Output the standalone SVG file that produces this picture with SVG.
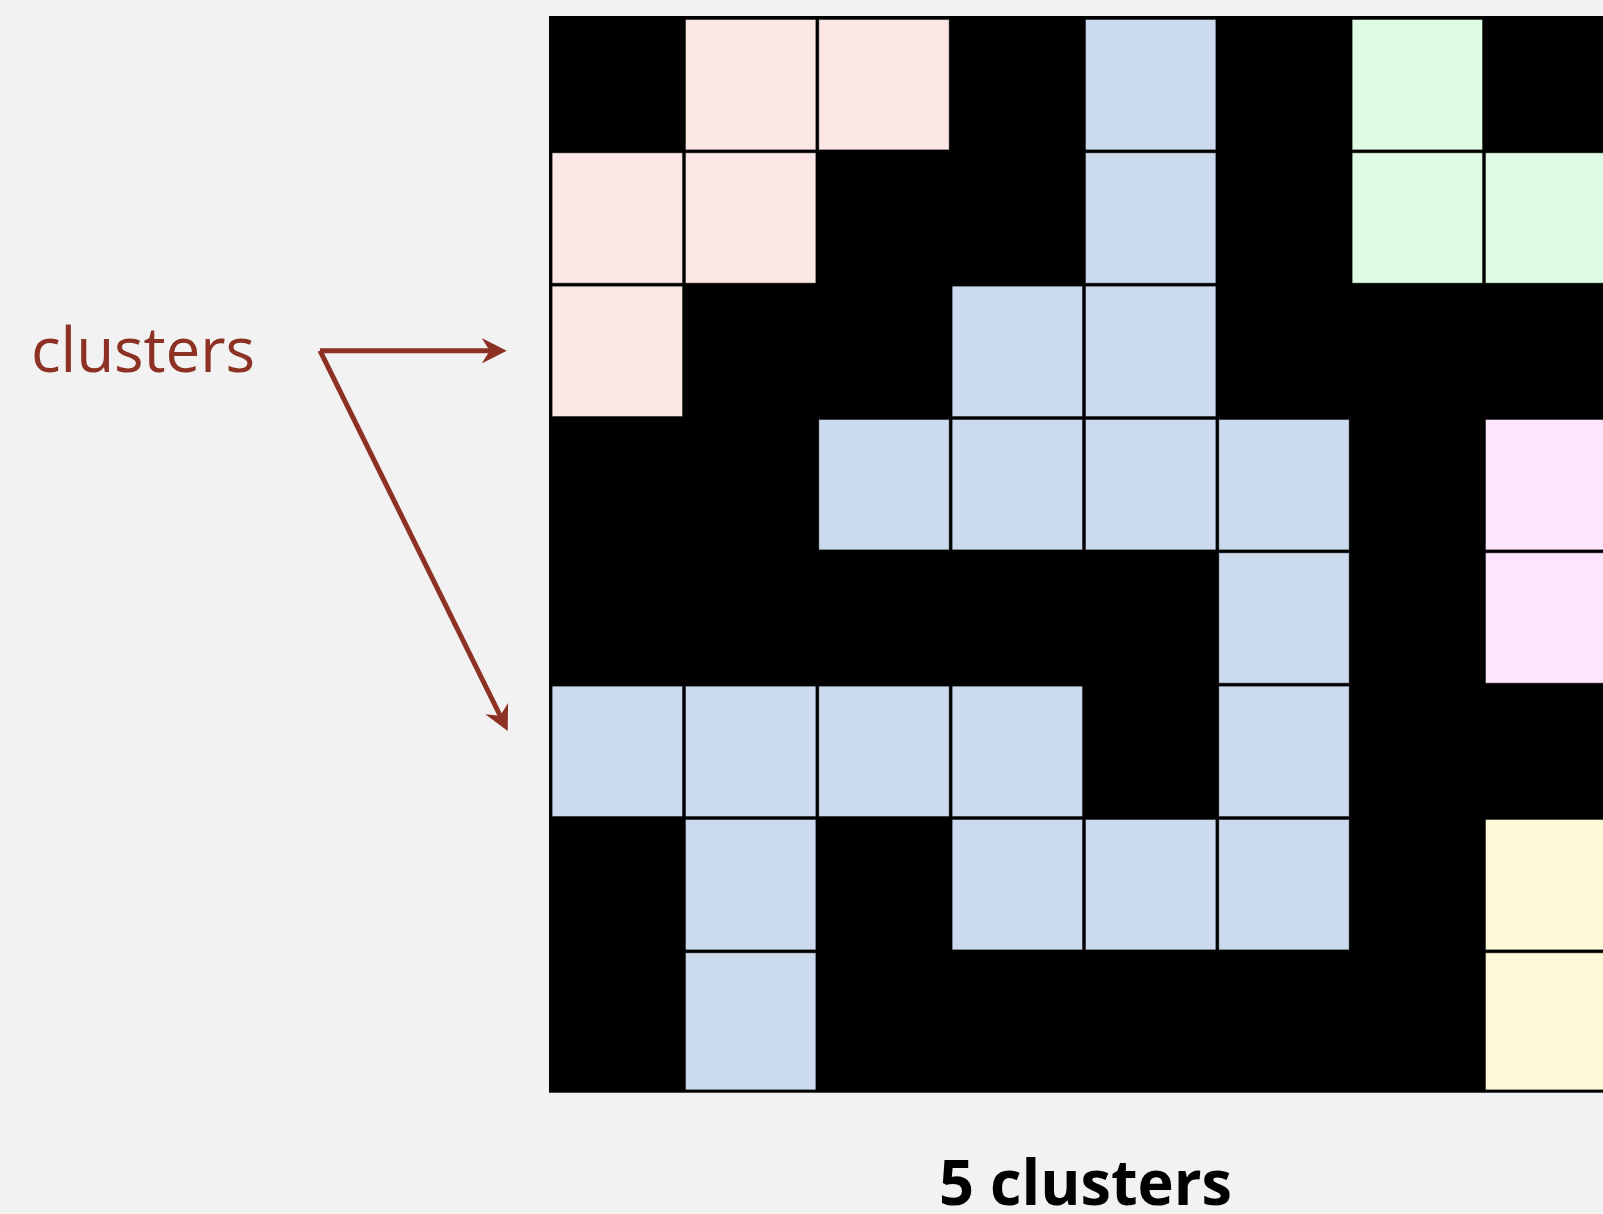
<svg xmlns="http://www.w3.org/2000/svg" width="1603" height="1214" viewBox="0 0 1603 1214">
  <style>
    .c { stroke: #000; stroke-opacity: 0.4; stroke-width: 1; }
    .pink { fill: #FAE6E4; }
    .blue { fill: #CBDAEC; }
    .green { fill: #DFFBE4; }
    .mag { fill: #FDE5FD; }
    .yel { fill: #FEFAD8; }
    .arrow { stroke: #8C3123; stroke-width: 5; fill: none; marker-end: url(#head); }
    .lbl { font-family: "Open Sans", "DejaVu Sans", sans-serif; }
  </style>
  <defs>
    <marker id="head" markerUnits="userSpaceOnUse" markerWidth="30" markerHeight="30" viewBox="-30 -15 30 30" refX="-10" refY="0" orient="auto">
      <path d="M0,0 L-25,-12.7 L-17,0 L-25,12.7 Z" fill="#8C3123"/>
    </marker>
  </defs>
  <rect x="0" y="0" width="1603" height="1214" fill="#F2F2F2"/>
  <rect id="grid-bg" x="549" y="16" width="1060" height="1076.7" fill="#000"/>

  <g id="cluster-pink">
    <rect class="c pink" x="685.5" y="19.5" width="130.33" height="130.33"/>
    <rect class="c pink" x="818.83" y="19.5" width="130.33" height="130.33"/>
    <rect class="c pink" x="552.17" y="152.83" width="130.33" height="130.33"/>
    <rect class="c pink" x="685.5" y="152.83" width="130.33" height="130.33"/>
    <rect class="c pink" x="552.17" y="286.17" width="130.33" height="130.33"/>
  </g>

  <g id="cluster-blue">
    <rect class="c blue" x="1085.5" y="19.5" width="130.33" height="130.33"/>
    <rect class="c blue" x="1085.5" y="152.83" width="130.33" height="130.33"/>
    <rect class="c blue" x="952.17" y="286.17" width="130.33" height="130.33"/>
    <rect class="c blue" x="1085.5" y="286.17" width="130.33" height="130.33"/>
    <rect class="c blue" x="818.83" y="419.5" width="130.33" height="130.33"/>
    <rect class="c blue" x="952.17" y="419.5" width="130.33" height="130.33"/>
    <rect class="c blue" x="1085.5" y="419.5" width="130.33" height="130.33"/>
    <rect class="c blue" x="1218.83" y="419.5" width="130.33" height="130.33"/>
    <rect class="c blue" x="1218.83" y="552.83" width="130.33" height="130.33"/>
    <rect class="c blue" x="552.17" y="686.17" width="130.33" height="130.33"/>
    <rect class="c blue" x="685.5" y="686.17" width="130.33" height="130.33"/>
    <rect class="c blue" x="818.83" y="686.17" width="130.33" height="130.33"/>
    <rect class="c blue" x="952.17" y="686.17" width="130.33" height="130.33"/>
    <rect class="c blue" x="1218.83" y="686.17" width="130.33" height="130.33"/>
    <rect class="c blue" x="685.5" y="819.5" width="130.33" height="130.33"/>
    <rect class="c blue" x="952.17" y="819.5" width="130.33" height="130.33"/>
    <rect class="c blue" x="1085.5" y="819.5" width="130.33" height="130.33"/>
    <rect class="c blue" x="1218.83" y="819.5" width="130.33" height="130.33"/>
    <rect class="c blue" x="685.5" y="952.83" width="130.33" height="137"/>
  </g>

  <g id="cluster-green">
    <rect class="c green" x="1352.17" y="19.5" width="130.33" height="130.33"/>
    <rect class="c green" x="1352.17" y="152.83" width="130.33" height="130.33"/>
    <rect class="c green" x="1485.5" y="152.83" width="130.33" height="130.33"/>
  </g>

  <g id="cluster-magenta">
    <rect class="c mag" x="1485.5" y="419.5" width="130.33" height="130.33"/>
    <rect class="c mag" x="1485.5" y="552.83" width="130.33" height="130.33"/>
  </g>

  <g id="cluster-yellow">
    <rect class="c yel" x="1485.5" y="819.5" width="130.33" height="130.33"/>
    <rect class="c yel" x="1485.5" y="952.83" width="130.33" height="137"/>
  </g>

  <g id="label-clusters">
    <text class="lbl" x="31" y="372" font-size="62" fill="#8C3123" textLength="224" lengthAdjust="spacing">clusters</text>
  </g>

  <g id="connectors">
    <line class="arrow" x1="320" y1="350.7" x2="496.7" y2="350.7"/>
    <line class="arrow" x1="320" y1="350.7" x2="503.3" y2="722"/>
  </g>

  <g id="caption">
    <text class="lbl" x="939" y="1205" font-size="62" font-weight="bold" fill="#000" textLength="293" lengthAdjust="spacingAndGlyphs">5 clusters</text>
  </g>
</svg>
